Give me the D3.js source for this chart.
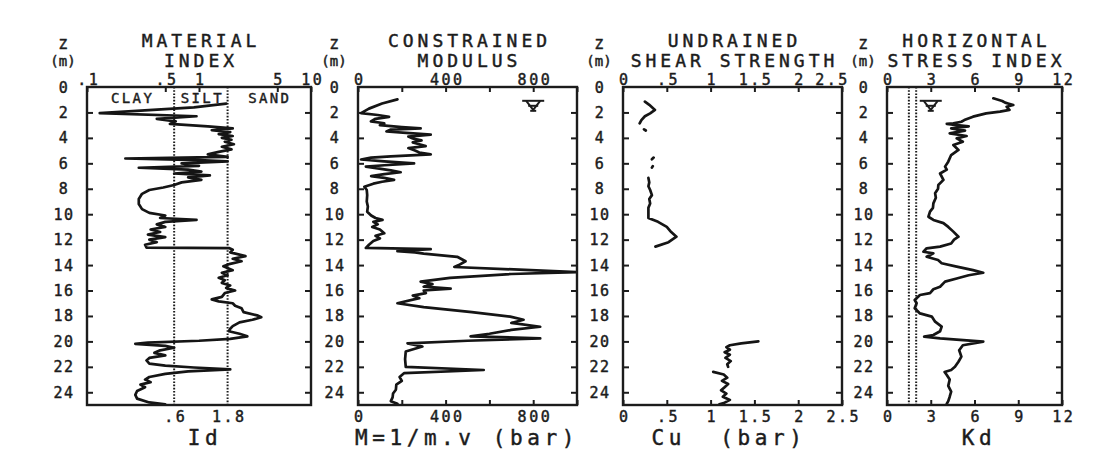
<!DOCTYPE html>
<html><head><meta charset="utf-8">
<script src="https://cdn.jsdelivr.net/npm/d3@7"></script>
<style>
body{margin:0;background:#fff}
text{font-family:"DejaVu Sans Mono",monospace;fill:#1c1c1c}
</style>
</head><body>
<svg id="c" width="1102" height="453"></svg>
<script>
// ---------- DATA ----------
const depthTicks = [0,2,4,6,8,10,12,14,16,18,20,22,24];

// Material index Id
const idDepth = [1.3,1.6,2.05,2.3,2.5,2.7,2.9,3.1,3.25,3.4,3.55,3.7,3.85,4.0,4.15,4.3,4.5,4.7,4.9,5.1,5.3,5.5,5.62,5.75,5.85,6.0,6.2,6.35,6.5,6.65,6.8,6.95,7.1,7.3,7.5,7.7,7.9,8.1,8.4,8.8,9.2,9.6,9.9,10.1,10.3,10.45,10.6,10.8,11.0,11.2,11.4,11.6,11.8,12.0,12.2,12.4,12.62,12.66,12.8,13.0,13.3,13.5,13.7,13.9,14.1,14.4,14.6,14.8,15.0,15.2,15.4,15.6,15.8,16.0,16.2,16.5,16.7,16.85,17.0,17.2,17.4,17.7,17.95,18.1,18.3,18.5,18.8,19.0,19.2,19.4,19.6,19.8,19.95,20.1,20.2,20.35,20.5,20.7,20.9,21.1,21.3,21.5,21.75,21.9,22.05,22.2,22.35,22.55,22.8,23.0,23.2,23.4,23.6,23.9,24.2,24.5,24.8,24.95];
const idValue = [1.75,0.9,0.13,0.95,0.42,0.62,0.55,1.2,2.0,1.3,1.9,1.5,2.0,1.6,1.95,1.7,2.05,1.6,1.95,1.5,1.2,1.8,0.22,1.0,1.8,0.7,1.0,0.29,0.8,1.05,0.6,1.25,0.8,1.05,0.7,0.6,0.48,0.36,0.31,0.29,0.29,0.31,0.36,0.5,0.45,0.95,0.5,0.42,0.5,0.37,0.45,0.35,0.5,0.36,0.42,0.33,0.34,1.85,2.0,1.9,2.6,2.0,2.4,1.9,1.65,2.0,1.6,1.8,1.5,1.7,1.6,1.9,1.75,2.1,1.7,1.6,1.3,1.5,2.0,2.1,2.4,2.5,3.3,3.6,3.0,2.3,2.0,1.9,1.85,2.3,2.7,1.9,1.0,0.35,0.27,0.5,0.6,0.45,0.4,0.5,0.36,0.34,0.36,0.5,0.9,1.9,0.8,0.5,0.36,0.33,0.37,0.3,0.33,0.28,0.27,0.28,0.36,0.5];
const idLimits = [0.6, 1.8];
const soilNames = ["CLAY","SILT","SAND"];
const soilCentres = [0.25, 1.05, 4.2];

// Constrained modulus M (bar)
const mDepth = [0.97,1.3,1.7,2.05,2.2,2.35,2.5,2.7,2.85,3.0,3.15,3.25,3.35,3.5,3.6,3.75,3.9,4.05,4.2,4.35,4.5,4.65,4.8,5.0,5.15,5.3,5.45,5.55,5.7,5.85,6.0,6.15,6.26,6.4,6.55,6.7,6.85,7.0,7.15,7.3,7.45,7.6,7.84,8.1,8.5,9.0,9.4,9.8,10.1,10.3,10.45,10.6,10.8,11.0,11.2,11.5,11.7,11.9,12.1,12.4,12.65,12.75,12.9,13.0,13.1,13.35,13.7,14.0,14.15,14.55,14.7,15.0,15.3,15.5,15.7,15.85,16.0,16.2,16.4,16.6,17.0,17.3,17.7,18.05,18.3,18.55,18.85,19.1,19.4,19.6,19.76,19.95,20.15,20.4,20.8,21.4,22.0,22.25,22.5,22.8,23.1,23.4,23.8,24.1,24.4,24.7,24.9];
const mValue = [180,110,50,14,90,142,80,59,120,100,200,286,150,130,220,332,230,250,290,250,280,309,230,260,280,332,150,60,14,120,256,120,36,90,150,195,120,60,120,165,110,70,29,40,42,40,45,42,60,80,112,70,90,65,100,120,80,100,70,50,36,332,180,260,300,453,491,460,440,998,700,420,286,340,300,423,300,310,250,280,180,300,520,695,756,700,832,700,600,514,832,500,226,294,218,215,218,574,210,190,200,175,173,160,158,150,180];

// Undrained shear strength Cu (bar); null = gap in the trace
const cuDepth = [1.15,1.4,1.8,2.07,2.3,2.6,2.86,null,3.33,3.42,null,5.55,5.68,null,6.22,6.34,null,7.15,7.5,7.8,8.1,8.5,8.8,9.15,9.5,9.8,10.3,10.6,11.0,11.4,11.77,12.2,12.55,null,20.0,20.15,20.3,20.45,20.65,20.85,21.05,21.3,21.55,21.8,22.0,null,22.4,22.6,22.85,23.1,23.35,23.6,23.85,24.1,24.35,24.6,24.85,24.95];
const cuValue = [0.25,0.3,0.365,0.31,0.25,0.21,0.19,null,0.24,0.26,null,0.35,0.33,null,0.34,0.33,null,0.29,0.30,0.29,0.31,0.33,0.30,0.31,0.29,0.29,0.29,0.40,0.50,0.55,0.61,0.52,0.37,null,1.545,1.35,1.22,1.18,1.22,1.16,1.22,1.17,1.23,1.19,1.2,null,1.03,1.15,1.19,1.13,1.2,1.16,1.12,1.18,1.14,1.22,1.15,1.1];

// Horizontal stress index Kd
const kdDepth = [0.89,1.1,1.23,1.3,1.42,1.55,1.68,1.8,1.94,2.07,2.33,2.6,2.73,2.86,2.9,3.0,3.1,3.25,3.43,3.64,3.85,4.04,4.3,4.56,4.95,5.35,5.87,6.26,6.5,6.8,7.3,7.7,8.0,8.36,8.7,9.15,9.5,9.8,10.2,10.45,10.7,11.0,11.37,11.77,12.0,12.3,12.55,12.68,12.95,13.08,13.34,13.6,13.86,14.12,14.4,14.6,14.8,15.05,15.3,15.7,15.9,16.2,16.35,16.75,17.0,17.4,17.8,18.05,18.45,18.84,19.2,19.5,19.63,19.76,20.02,20.3,20.7,21.2,21.6,22.0,22.25,22.4,22.65,23.0,23.5,23.95,24.35,24.7,24.9];
const kdValue = [7.29,7.9,8.1,8.3,8.66,8.2,8.3,8.4,7.75,6.8,5.9,5.3,5.1,4.55,4.1,4.8,5.6,4.4,5.35,4.3,5.46,4.78,5.2,4.55,4.9,4.4,4.2,3.98,4.1,3.64,3.87,3.52,3.5,3.3,3.35,3.18,3.15,2.95,2.84,3.18,3.87,4.2,4.55,4.9,4.6,4.4,3.64,2.72,2.5,3.18,2.72,3.5,3.75,4.78,5.9,6.6,5.6,4.78,3.98,3.64,3.18,2.95,2.26,1.9,2.03,1.9,2.26,3.07,3.3,3.75,3.64,3.18,2.55,3.64,6.6,5.2,4.95,5.1,4.9,4.66,4.4,3.95,4.1,4.3,4.2,4.4,4.3,4.2,4.1];
const kdLimits = [1.5, 2.0];

// Water table marker
const waterDepth = 1.4;
const waterM = 800, waterKd = 3;

// Tick labels
const idTopVals = [0.1,0.5,1,5,10], idTopLabels = [".1",".5","1","5","10"];
const idBotVals = [0.6,1.8], idBotLabels = [".6","1.8"];
const mTickVals = [0,200,400,600,800,1000], mTickLabels = ["0","","400","","800",""];
const cuTickVals = [0,0.5,1,1.5,2,2.5], cuTickLabels = ["0",".5","1","1.5","2","2.5"];
const kdTickVals = [0,3,6,9,12], kdTickLabels = ["0","3","6","9","12"];

// ---------- DRAWING ----------
const svg = d3.select("#c");
svg.append("rect").attr("width",1102).attr("height",453).attr("fill","#fff");
const y = d3.scaleLinear().domain([0,25]).range([87,405]);
const INK = "#1c1c1c";

const zip = (a,b) => a.map((d,i)=>[d,b[i]]);

const panels = [
  {title:["MATERIAL","INDEX"], xlab:"Id", xlabX:203, zc:63,
   x:d3.scaleLog().domain([0.1,10]).range([87,311]),
   top:[idTopVals,idTopLabels], bot:[idBotVals,idBotLabels], botTick:false,
   data:zip(idDepth,idValue)},
  {title:["CONSTRAINED","MODULUS"], xlab:"M=1/m.v (bar)", xlabX:465, zc:334,
   x:d3.scaleLinear().domain([0,1000]).range([358,577]),
   top:[mTickVals,mTickLabels], bot:[mTickVals,mTickLabels], botTick:true,
   data:zip(mDepth,mValue)},
  {title:["UNDRAINED","SHEAR STRENGTH"], xlab:"Cu\u00a0\u00a0(bar)", xlabX:727, zc:599,
   x:d3.scaleLinear().domain([0,2.5]).range([623,842]),
   top:[cuTickVals,cuTickLabels], bot:[cuTickVals,cuTickLabels], botTick:true,
   data:zip(cuDepth,cuValue)},
  {title:["HORIZONTAL","STRESS INDEX"], xlab:"Kd", xlabX:977, zc:863,
   x:d3.scaleLinear().domain([0,12]).range([887,1062]),
   top:[kdTickVals,kdTickLabels], bot:[kdTickVals,kdTickLabels], botTick:true,
   data:zip(kdDepth,kdValue)}
];

function styleText(sel, size, ls){
  sel.attr("font-family","'DejaVu Sans Mono',monospace").attr("font-size",size)
     .attr("letter-spacing",ls).attr("fill",INK)
     .attr("stroke",INK).attr("stroke-width",0.45);
}

panels.forEach((p,pi)=>{
  const g = svg.append("g");
  const [x0,x1] = p.x.range();
  const cx = (x0+x1)/2;

  // titles
  p.title.forEach((t,i)=>{
    g.append("text").attr("x",cx+2).attr("y",47+i*20).attr("text-anchor","middle")
     .text(t).call(styleText,18,4);
  });
  // Z (m)
  g.append("text").attr("x",p.zc).attr("y",48.5).attr("text-anchor","middle").text("Z").call(styleText,14,0);
  g.append("text").attr("x",p.zc).attr("y",66).attr("text-anchor","middle").text("(m)").call(styleText,14,0);
  // depth labels
  depthTicks.forEach(d=>{
    g.append("text").attr("x",p.zc+1).attr("y",y(d)+5.5).attr("text-anchor","middle")
     .text(d).call(styleText,15,1.5);
  });

  // depth ticks (inward) via d3 axes
  g.append("g").attr("transform",`translate(${x0},0)`)
   .call(d3.axisLeft(y).tickValues(depthTicks.slice(1)).tickSize(-6).tickFormat(""))
   .call(a=>{a.select(".domain").remove(); a.selectAll("text").remove();
     a.selectAll("line").attr("stroke",INK).attr("stroke-width",2);});
  g.append("g").attr("transform",`translate(${x1},0)`)
   .call(d3.axisRight(y).tickValues(depthTicks.slice(1)).tickSize(-6).tickFormat(""))
   .call(a=>{a.select(".domain").remove(); a.selectAll("text").remove();
     a.selectAll("line").attr("stroke",INK).attr("stroke-width",2);});

  // top axis
  const [tv,tl] = p.top;
  g.append("g").attr("transform",`translate(0,${y(0)})`)
   .call(d3.axisTop(p.x).tickValues(tv).tickSize(-5).tickPadding(2)
         .tickFormat((d,i)=>tl[i]))
   .call(a=>{a.select(".domain").remove();
     a.selectAll("line").attr("stroke",INK).attr("stroke-width",2);
     a.selectAll("text").filter(function(){return this.textContent==="";}).remove();
     a.selectAll("text").call(styleText,15,2.5).attr("dx",1.2);
     if(pi===2) a.selectAll("text").filter(function(){return this.textContent==="2.5";}).attr("dx",-10);
     a.attr("font-family",null).attr("font-size",null);});
  // bottom axis
  const [bv,bl] = p.bot;
  g.append("g").attr("transform",`translate(0,${y(25)})`)
   .call(d3.axisBottom(p.x).tickValues(bv).tickSize(p.botTick?-5:0).tickPadding(6)
         .tickFormat((d,i)=>bl[i]))
   .call(a=>{a.select(".domain").remove();
     a.selectAll("line").attr("stroke",INK).attr("stroke-width",2);
     a.selectAll("text").filter(function(){return this.textContent==="";}).remove();
     a.selectAll("text").call(styleText,15,2.5).attr("dx",1.2);
     a.attr("font-family",null).attr("font-size",null);});

  // axis title
  g.append("text").attr("x",p.xlabX+2).attr("y",444.5).attr("text-anchor","middle")
   .text(p.xlab).call(styleText,21,4.6);

  // dotted limit lines
  const limits = pi===0 ? idLimits : (pi===3 ? kdLimits : []);
  g.selectAll(".lim").data(limits).enter().append("line")
   .attr("x1",d=>p.x(d)).attr("x2",d=>p.x(d)).attr("y1",y(0)).attr("y2",y(25))
   .attr("stroke",INK).attr("stroke-width",2).attr("stroke-dasharray","1.6,1.6");

  // soil names
  if(pi===0){
    soilNames.forEach((s,i)=>{
      g.append("text").attr("x",p.x(soilCentres[i])+1).attr("y",103).attr("text-anchor","middle")
       .text(s).call(styleText,14,2.4);
    });
  }

  // profile line
  const line = d3.line().defined(d=>d[0]!==null && d[1]!==null)
    .x(d=>p.x(d[1])).y(d=>y(d[0]));
  g.append("path").datum(p.data).attr("d",line).attr("fill","none")
   .attr("stroke","#151515").attr("stroke-width",2.7).attr("stroke-linejoin","round").attr("stroke-linecap","round");

  // frame
  g.append("rect").attr("x",x0).attr("y",y(0)).attr("width",x1-x0).attr("height",y(25)-y(0))
   .attr("fill","none").attr("stroke",INK).attr("stroke-width",2.4);

  // water table marker
  const wv = pi===1 ? waterM : (pi===3 ? waterKd : null);
  if(wv!==null){
    const wx = p.x(wv), wy = y(waterDepth);
    const m = g.append("g").attr("stroke",INK).attr("stroke-width",2).attr("fill","none");
    m.append("line").attr("x1",wx-11).attr("x2",wx+11).attr("y1",wy-4).attr("y2",wy-4);
    m.append("path").attr("d",`M${wx-7},${wy-4}L${wx},${wy+5}L${wx+7},${wy-4}`);
    m.append("line").attr("x1",wx-5).attr("x2",wx+5).attr("y1",wy+1).attr("y2",wy+1);
    m.append("line").attr("x1",wx-3).attr("x2",wx+3).attr("y1",wy+6).attr("y2",wy+6);
  }
});
</script>
</body></html>
